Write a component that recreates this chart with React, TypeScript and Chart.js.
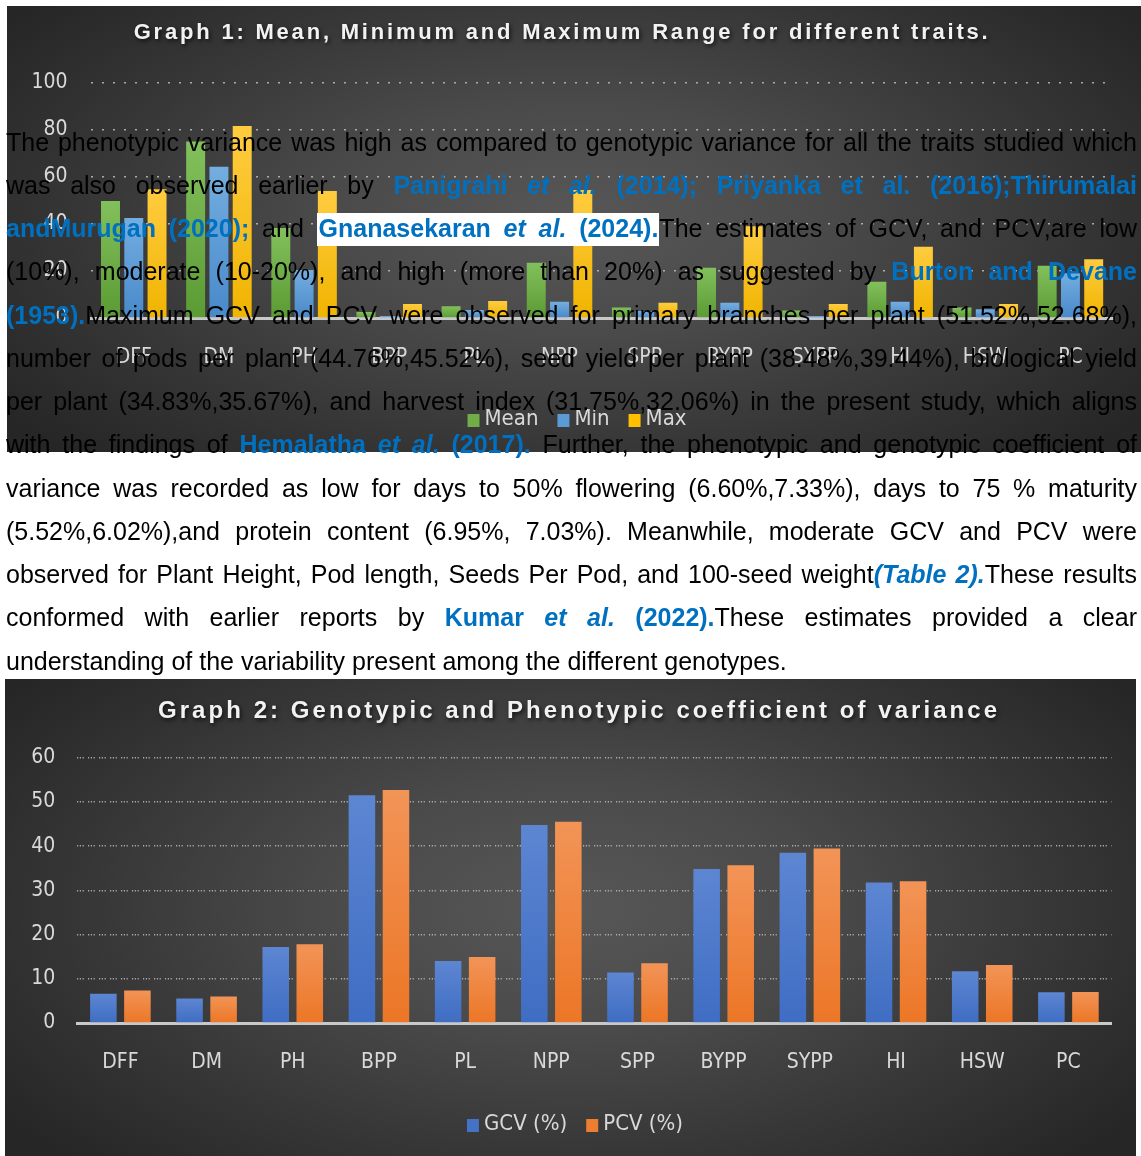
import React, { useEffect, useRef } from "react";
import { Chart, registerables } from "chart.js";

Chart.register(...registerables);

// ---------- data ----------
const traits = ["DFF", "DM", "PH", "BPP", "PL", "NPP", "SPP", "BYPP", "SYPP", "HI", "HSW", "PC"];

const meanValues = [49.7, 75, 38.2, 2.5, 5, 23.5, 4.5, 21.4, 3.2, 15.4, 4.5, 22.2];
const minValues = [42.5, 64.3, 20.4, 0.8, 3.4, 6.9, 3, 6.5, 0.9, 6.9, 3.7, 19];
const maxValues = [54.7, 81.6, 54, 6, 7.2, 54.4, 6.5, 39, 6, 30.3, 6, 25];

const gcvValues = [6.6, 5.52, 17.2, 51.52, 14.0, 44.76, 11.4, 34.83, 38.48, 31.75, 11.7, 6.95];
const pcvValues = [7.33, 6.02, 17.8, 52.68, 14.9, 45.52, 13.5, 35.67, 39.44, 32.06, 13.1, 7.03];

const graph1Title = "Graph 1: Mean, Minimum and Maximum Range for different traits.";
const graph2Title = "Graph 2: Genotypic and Phenotypic coefficient of variance";
const graph1Series = ["Mean", "Min", "Max"];
const graph2Series = ["GCV (%)", "PCV (%)"];
const graph1Axis = { min: 0, max: 100, step: 20 };
const graph2Axis = { min: 0, max: 60, step: 10 };

// ---------- styling helpers ----------
const TICK_FONT = "'Liberation Sans Narrow', 'DejaVu Sans Condensed', sans-serif";
const TEXT_FONT = "'Liberation Sans', Arial, sans-serif";

function barGradient(top: string, bottom: string) {
  return (c: any) => {
    const chart = c.chart;
    if (!chart.chartArea || c.type !== "data") return bottom;
    const y = chart.scales.y;
    const v = c.parsed ? c.parsed.y : c.raw;
    const yTop = y.getPixelForValue(v);
    const yBot = y.getPixelForValue(0);
    if (!isFinite(yTop) || !isFinite(yBot) || yBot - yTop < 1) return bottom;
    const g = chart.ctx.createLinearGradient(0, yTop, 0, yBot);
    g.addColorStop(0, top);
    g.addColorStop(1, bottom);
    return g;
  };
}

const panelTitle = {
  id: "panelTitle",
  afterDraw(chart: any, _args: any, opts: any) {
    const ctx = chart.ctx;
    ctx.save();
    ctx.font = `bold ${opts.size}px ${TEXT_FONT}`;
    ctx.letterSpacing = "0px";
    const n = Array.from(opts.text as string).length;
    const natural = ctx.measureText(opts.text).width;
    const ls = (opts.width - natural) / (n - 1);
    ctx.letterSpacing = ls + "px";
    ctx.textAlign = "left";
    ctx.textBaseline = "middle";
    ctx.shadowColor = "rgba(0,0,0,0.7)";
    ctx.shadowBlur = 4;
    ctx.shadowOffsetX = 1.5;
    ctx.shadowOffsetY = 2;
    ctx.fillStyle = "#f2f2f2";
    ctx.fillText(opts.text, opts.x - opts.width / 2, opts.y);
    ctx.restore();
  },
};

const panelLegend = {
  id: "panelLegend",
  afterDraw(chart: any, _args: any, opts: any) {
    const ctx = chart.ctx;
    ctx.save();
    ctx.font = `${opts.size}px ${TICK_FONT}`;
    const items = chart.data.datasets.map((ds: any) => ({
      label: ds.label,
      color: ds.borderColor,
      w: ctx.measureText(ds.label).width,
    }));
    const box = opts.box;
    const gap = opts.gap;
    const itemGap = opts.itemGap;
    let total = 0;
    items.forEach((it: any, i: number) => {
      total += box + gap + it.w + (i > 0 ? itemGap : 0);
    });
    let x = opts.x - total / 2;
    ctx.textBaseline = "middle";
    ctx.textAlign = "left";
    items.forEach((it: any) => {
      ctx.fillStyle = it.color;
      ctx.fillRect(x, opts.y - box / 2 + 1, box, box + 1);
      ctx.fillStyle = "#d9d9d9";
      ctx.fillText(it.label, x + box + gap, opts.y);
      x += box + gap + it.w + itemGap;
    });
    ctx.restore();
  },
};

function makeConfig(p: any) {
  return {
    type: "bar",
    data: { labels: traits, datasets: p.datasets },
    plugins: [panelTitle, panelLegend],
    options: {
      responsive: false,
      animation: false,
      devicePixelRatio: 1,
      events: [],
      layout: { padding: { top: p.plotTop, right: p.W - p.plotRight, bottom: 0, left: 0 } },
      datasets: { bar: { categoryPercentage: p.catPct, barPercentage: p.barPct, borderWidth: 0 } },
      plugins: {
        legend: { display: false },
        title: { display: false },
        tooltip: { enabled: false },
        panelTitle: { text: p.title, x: p.titleX, y: p.titleY, size: p.titleSize, width: p.titleWidth },
        panelLegend: { x: p.legendX, y: p.legendY, size: 22, box: 12, gap: 5, itemGap: 19 },
      },
      scales: {
        x: {
          z: 1,
          grid: { display: false, drawTicks: false, tickLength: 0 },
          border: { display: true, color: "#c9c9c9", width: 3 },
          ticks: {
            color: "#d9d9d9",
            font: { family: TICK_FONT, size: 21 },
            padding: 27.4,
            maxRotation: 0,
            autoSkip: false,
          },
          afterFit(s: any) {
            s.height = p.H - p.plotBottom;
          },
        },
        y: {
          min: p.axis.min,
          max: p.axis.max,
          ticks: {
            stepSize: p.axis.step,
            color: "#d9d9d9",
            font: { family: TICK_FONT, size: 21 },
            padding: p.tickPad,
          },
          grid: { color: "rgba(190,190,190,0.85)", lineWidth: 1.4, drawTicks: false, tickLength: 0 },
          border: { display: false, dash: p.dash },
          afterFit(s: any) {
            s.width = p.plotLeft;
          },
        },
      },
    },
  };
}

const panelBg =
  "radial-gradient(ellipse 62% 75% at 50% 48%, #575757 0%, #4a4a4a 35%, #363636 70%, #262626 100%)";

const blue = { color: "#0070c0", fontWeight: "bold" as const };
const it = { fontStyle: "italic" as const };

function Line({ children, last }: { children: any; last?: boolean }) {
  return (
    <div
      style={{
        height: "43.27px",
        lineHeight: "43.27px",
        textAlign: "justify",
        textAlignLast: last ? "left" : "justify",
      }}
    >
      {children}
    </div>
  );
}

export default function App() {
  const ref1 = useRef<HTMLCanvasElement>(null);
  const ref2 = useRef<HTMLCanvasElement>(null);

  useEffect(() => {
    const c1 = new Chart(
      ref1.current as any,
      makeConfig({
        W: 1134,
        H: 446,
        plotLeft: 84.2,
        plotRight: 1106,
        plotTop: 76.7,
        plotBottom: 312,
        catPct: 0.82,
        barPct: 0.815,
        tickPad: 23.6,
        dash: [2, 9],
        axis: graph1Axis,
        title: graph1Title,
        titleX: 553.7,
        titleY: 27,
        titleSize: 22,
        titleWidth: 854,
        legendX: 570,
        legendY: 413,
        datasets: [
          { label: graph1Series[0], data: meanValues, backgroundColor: barGradient("#82c05c", "#5b9b33"), borderColor: "#70ad47" },
          { label: graph1Series[1], data: minValues, backgroundColor: barGradient("#74aee0", "#4889ca"), borderColor: "#5b9bd5" },
          { label: graph1Series[2], data: maxValues, backgroundColor: barGradient("#ffcc40", "#f0b400"), borderColor: "#ffc000" },
        ],
      }) as any
    );
    const c2 = new Chart(
      ref2.current as any,
      makeConfig({
        W: 1131,
        H: 477,
        plotLeft: 72.3,
        plotRight: 1106.5,
        plotTop: 78.7,
        plotBottom: 344,
        catPct: 0.79,
        barPct: 0.78,
        tickPad: 22,
        dash: [1.2, 1.6, 1.2, 1.6, 1.2, 4.2],
        axis: graph2Axis,
        title: graph2Title,
        titleX: 572.5,
        titleY: 32,
        titleSize: 24,
        titleWidth: 839,
        legendX: 570,
        legendY: 445,
        datasets: [
          { label: graph2Series[0], data: gcvValues, backgroundColor: barGradient("#5d86d2", "#3f6dc3"), borderColor: "#4472c4" },
          { label: graph2Series[1], data: pcvValues, backgroundColor: barGradient("#f29457", "#ec7626"), borderColor: "#ed7d31" },
        ],
      }) as any
    );
    return () => {
      c1.destroy();
      c2.destroy();
    };
  }, []);

  return (
    <div style={{ position: "relative", width: 1141, height: 1156, background: "#fff", overflow: "hidden" }}>
      <style>{"body{margin:0;}"}</style>
      <div style={{ position: "absolute", left: 7, top: 6, width: 1134, height: 446, background: panelBg }}>
        <canvas ref={ref1} width={1134} height={446} style={{ display: "block", width: 1134, height: 446 }} />
      </div>
      <div style={{ position: "absolute", left: 5, top: 679, width: 1131, height: 477, background: panelBg }}>
        <canvas ref={ref2} width={1131} height={477} style={{ display: "block", width: 1131, height: 477 }} />
      </div>
      <div
        style={{
          position: "absolute",
          left: 6,
          top: 120.5,
          width: 1131,
          fontFamily: TEXT_FONT,
          fontSize: 25,
          color: "#000",
        }}
      >
        <Line>The phenotypic variance was high as compared to genotypic variance for all the traits studied which</Line>
        <Line>
          was also observed earlier by{" "}
          <span style={blue}>
            Panigrahi <span style={it}>et al.</span> (2014); Priyanka et al. (2016);Thirumalai
          </span>
        </Line>
        <Line>
          <span style={blue}>andMurugan (2020);</span> and{" "}
          <span style={{ ...blue, background: "#fff", padding: "1px 1px 4px 2px" }}>
            Gnanasekaran <span style={it}>et al.</span> (2024).
          </span>
          The estimates of GCV, and PCV,are low
        </Line>
        <Line>
          (10%), moderate (10-20%), and high (more than 20%) as suggested by{" "}
          <span style={blue}>Burton and Devane</span>
        </Line>
        <Line>
          <span style={blue}>(1953).</span>Maximum GCV and PCV were observed for primary branches per plant (51.52%,52.68%),
        </Line>
        <Line>number of pods per plant (44.76%,45.52%), seed yield per plant (38.48%,39.44%), biological yield</Line>
        <Line>per plant (34.83%,35.67%), and harvest index (31.75%,32.06%) in the present study, which aligns</Line>
        <Line>
          with the findings of{" "}
          <span style={blue}>
            Hemalatha <span style={it}>et al.</span> (2017).
          </span>{" "}
          Further, the phenotypic and genotypic coefficient of
        </Line>
        <Line>variance was recorded as low for days to 50% flowering (6.60%,7.33%), days to 75 % maturity</Line>
        <Line>(5.52%,6.02%),and protein content (6.95%, 7.03%). Meanwhile, moderate GCV and PCV were</Line>
        <Line>
          observed for Plant Height, Pod length, Seeds Per Pod, and 100-seed weight
          <span style={{ ...blue, ...it }}>(Table 2).</span>These results
        </Line>
        <Line>
          conformed with earlier reports by{" "}
          <span style={blue}>
            Kumar <span style={it}>et al.</span> (2022).
          </span>
          These estimates provided a clear
        </Line>
        <Line last>understanding of the variability present among the different genotypes.</Line>
      </div>
    </div>
  );
}
